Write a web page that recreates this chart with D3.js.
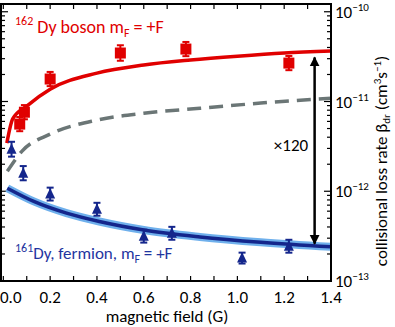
<!DOCTYPE html>
<html>
<head>
<meta charset="utf-8">
<script src="https://cdn.jsdelivr.net/npm/d3@7"></script>
<style>
  body { margin: 0; background: #fff; }
  text { font-family: Carlito, Lato, "Open Sans", sans-serif; }
</style>
</head>
<body>
<script>
// 162Dy boson points (field in G, rate in cm^3 s^-1, error as factor)
var bosonField = [0.07, 0.09, 0.2, 0.5, 0.78, 1.22];
var bosonRate  = [5.6e-12, 7.6e-12, 1.78e-11, 3.47e-11, 3.84e-11, 2.68e-11];
var bosonErr   = [1.2, 1.2, 1.2, 1.22, 1.2, 1.2];

// 161Dy fermion points
var fermionField = [0.035, 0.085, 0.2, 0.4, 0.6, 0.72, 1.02, 1.22];
var fermionRate  = [2.94e-12, 1.59e-12, 9.3e-13, 6.3e-13, 3.16e-13, 3.4e-13, 1.8e-13, 2.44e-13];
var fermionErr   = [1.21, 1.2, 1.18, 1.18, 1.18, 1.18, 1.15, 1.18];

// theory curves
var bosonFitField = [0.015, 0.04, 0.1, 0.2, 0.4, 0.6, 0.8, 1.0, 1.2, 1.4];
var bosonFitRate  = [3.44e-12, 6.4e-12, 8.9e-12, 1.37e-11, 2.07e-11, 2.55e-11, 2.9e-11, 3.2e-11, 3.47e-11, 3.65e-11];
var dashFitField  = [0.017, 0.08, 0.2, 0.4, 0.6, 0.84, 1.1, 1.4];
var dashFitRate   = [1.67e-12, 2.8e-12, 4.33e-12, 6.2e-12, 7.4e-12, 8.4e-12, 9.6e-12, 1.09e-11];
var fermiFitField = [0.017, 0.13, 0.27, 0.41, 0.6, 0.84, 1.1, 1.4];
var fermiFitRate  = [1.08e-12, 7.7e-13, 5.7e-13, 4.6e-13, 3.7e-13, 3.1e-13, 2.7e-13, 2.4e-13];

// the x120 arrow
var arrowField = 1.33;
var arrowRates = [3.1e-11, 2.6e-13];

var xTicks = [0, 0.2, 0.4, 0.6, 0.8, 1.0, 1.2, 1.4];
var yExponents = [-13, -12, -11, -10];

var red = "#e00000", navy = "#14268c", lightBlue = "#6fb0ec", grey = "#6b7676";

var width = 395, height = 327;
var svg = d3.select("body").append("svg")
    .attr("width", width)
    .attr("height", height);

var x = d3.scaleLinear().domain([-0.01, 1.4]).range([1, 331]);
var y = d3.scaleLog().domain([1e-13, 1.22e-10]).range([281, 4]);

svg.append("defs").append("clipPath").attr("id", "plot")
  .append("rect").attr("x", 1).attr("y", 4).attr("width", 330).attr("height", 277);

svg.append("defs").append("marker")
    .attr("id", "head")
    .attr("viewBox", "0 0 10 10")
    .attr("refX", 9).attr("refY", 5)
    .attr("markerWidth", 4).attr("markerHeight", 6)
    .attr("markerUnits", "strokeWidth")
    .attr("orient", "auto-start-reverse")
  .append("path").attr("d", "M0,0L10,5L0,10Z").attr("fill", "#000");

// ticks, all pointing inward
var minorX = d3.range(0, 15).map(function(i) { return i / 10; });
var g = svg.append("g");
minorX.forEach(function(v) {
  g.append("line").attr("x1", x(v)).attr("x2", x(v)).attr("y1", 281).attr("y2", 276).attr("stroke", "#000").attr("stroke-width", 1.2);
  g.append("line").attr("x1", x(v)).attr("x2", x(v)).attr("y1", 4).attr("y2", 9).attr("stroke", "#000").attr("stroke-width", 1.2);
});
var logTicks = y.ticks();
logTicks.forEach(function(v) {
  var major = Math.abs(Math.log10(v) - Math.round(Math.log10(v))) < 1e-6;
  var len = major ? 7 : 4;
  g.append("line").attr("x1", 1).attr("x2", 1 + len).attr("y1", y(v)).attr("y2", y(v)).attr("stroke", "#000").attr("stroke-width", 1.2);
  g.append("line").attr("x1", 331).attr("x2", 331 - len).attr("y1", y(v)).attr("y2", y(v)).attr("stroke", "#000").attr("stroke-width", 1.2);
});

var plot = svg.append("g").attr("clip-path", "url(#plot)");

var line = d3.line()
    .x(function(d) { return x(d[0]); })
    .y(function(d) { return y(d[1]); })
    .curve(d3.curveMonotoneX);

var fermiFit = d3.zip(fermiFitField, fermiFitRate);
plot.append("path").datum(fermiFit).attr("d", line)
    .attr("fill", "none").attr("stroke", lightBlue).attr("stroke-width", 8);
plot.append("path").datum(fermiFit).attr("d", line)
    .attr("fill", "none").attr("stroke", navy).attr("stroke-width", 3.5);

plot.append("path").datum(d3.zip(dashFitField, dashFitRate)).attr("d", line)
    .attr("fill", "none").attr("stroke", grey).attr("stroke-width", 3.5)
    .attr("stroke-dasharray", "14,8");

plot.append("path").datum(d3.zip(bosonFitField, bosonFitRate)).attr("d", line)
    .attr("fill", "none").attr("stroke", red).attr("stroke-width", 3.5);

// error bars and markers
function errorBars(fields, rates, errs, color) {
  var eb = plot.append("g").attr("stroke", color).attr("stroke-width", 2);
  fields.forEach(function(f, i) {
    var top = y(rates[i] * errs[i]), bot = y(rates[i] / errs[i]), cx = x(f);
    eb.append("line").attr("x1", cx).attr("x2", cx).attr("y1", top).attr("y2", bot);
    eb.append("line").attr("x1", cx - 3.5).attr("x2", cx + 3.5).attr("y1", top).attr("y2", top);
    eb.append("line").attr("x1", cx - 3.5).attr("x2", cx + 3.5).attr("y1", bot).attr("y2", bot);
  });
}
errorBars(bosonField, bosonRate, bosonErr, red);
errorBars(fermionField, fermionRate, fermionErr, navy);

plot.selectAll(".sq").data(d3.zip(bosonField, bosonRate)).enter().append("rect")
    .attr("x", function(d) { return x(d[0]) - 5.5; })
    .attr("y", function(d) { return y(d[1]) - 5.5; })
    .attr("width", 11).attr("height", 11)
    .attr("fill", red);

plot.selectAll(".tri").data(d3.zip(fermionField, fermionRate)).enter().append("path")
    .attr("transform", function(d) { return "translate(" + x(d[0]) + "," + y(d[1]) + ")"; })
    .attr("d", "M0,-6L5,4.5L-5,4.5Z")
    .attr("fill", navy);

// x120 arrow
svg.append("line")
    .attr("x1", x(arrowField)).attr("x2", x(arrowField))
    .attr("y1", y(arrowRates[0])).attr("y2", y(arrowRates[1]))
    .attr("stroke", "#000").attr("stroke-width", 2.5)
    .attr("marker-start", "url(#head)").attr("marker-end", "url(#head)");
svg.append("text").attr("x", 291).attr("y", 151)
    .attr("text-anchor", "middle").style("font-size", "17px").text("×120");

// frame
svg.append("rect").attr("x", 1).attr("y", 4).attr("width", 330).attr("height", 277)
    .attr("fill", "none").attr("stroke", "#000").attr("stroke-width", 2);

// x tick labels
svg.selectAll(".xl").data(xTicks).enter().append("text")
    .attr("x", function(d) { return d === 0 ? 0 : x(d); })
    .attr("y", 303)
    .attr("text-anchor", function(d) { return d === 0 ? "start" : "middle"; })
    .style("font-size", "17px")
    .text(function(d) { return d.toFixed(1); });

svg.append("text").attr("x", 167).attr("y", 322)
    .attr("text-anchor", "middle").style("font-size", "17px")
    .text("magnetic field (G)");

// right y tick labels
yExponents.forEach(function(e) {
  var t = svg.append("text").attr("x", 335).attr("y", y(Math.pow(10, e)) + 6)
      .style("font-size", "17px");
  t.append("tspan").text("10");
  t.append("tspan").attr("dy", -7).style("font-size", "11px").text(String(e).replace("-", "\u2212"));
});

// right axis title
var yt = svg.append("text")
    .attr("transform", "translate(387,161) rotate(-90)")
    .attr("text-anchor", "middle")
    .style("font-size", "17px");
yt.append("tspan").text("collisional loss rate β");
yt.append("tspan").attr("dy", 3).style("font-size", "11px").text("dr");
yt.append("tspan").attr("dy", -3).text(" (cm");
yt.append("tspan").attr("dy", -6).style("font-size", "11px").text("3");
yt.append("tspan").attr("dy", 6).text("s");
yt.append("tspan").attr("dy", -6).style("font-size", "11px").text("−1");
yt.append("tspan").attr("dy", 6).text(")");

// legend labels
var lb = svg.append("text").attr("x", 15).attr("y", 33).attr("fill", red).style("font-size", "18px");
lb.append("tspan").attr("dy", -8).style("font-size", "12px").text("162");
lb.append("tspan").attr("dy", 8).text(" Dy  boson  m");
lb.append("tspan").attr("dy", 4).style("font-size", "12px").text("F");
lb.append("tspan").attr("dy", -4).text(" = +F");

var lf = svg.append("text").attr("x", 15).attr("y", 259).attr("fill", "#1f35a0").style("font-size", "17px");
lf.append("tspan").attr("dy", -7).style("font-size", "12px").text("161");
lf.append("tspan").attr("dy", 7).text("Dy, fermion, m");
lf.append("tspan").attr("dy", 4).style("font-size", "12px").text("F");
lf.append("tspan").attr("dy", -4).text(" = +F");
</script>
</body>
</html>
